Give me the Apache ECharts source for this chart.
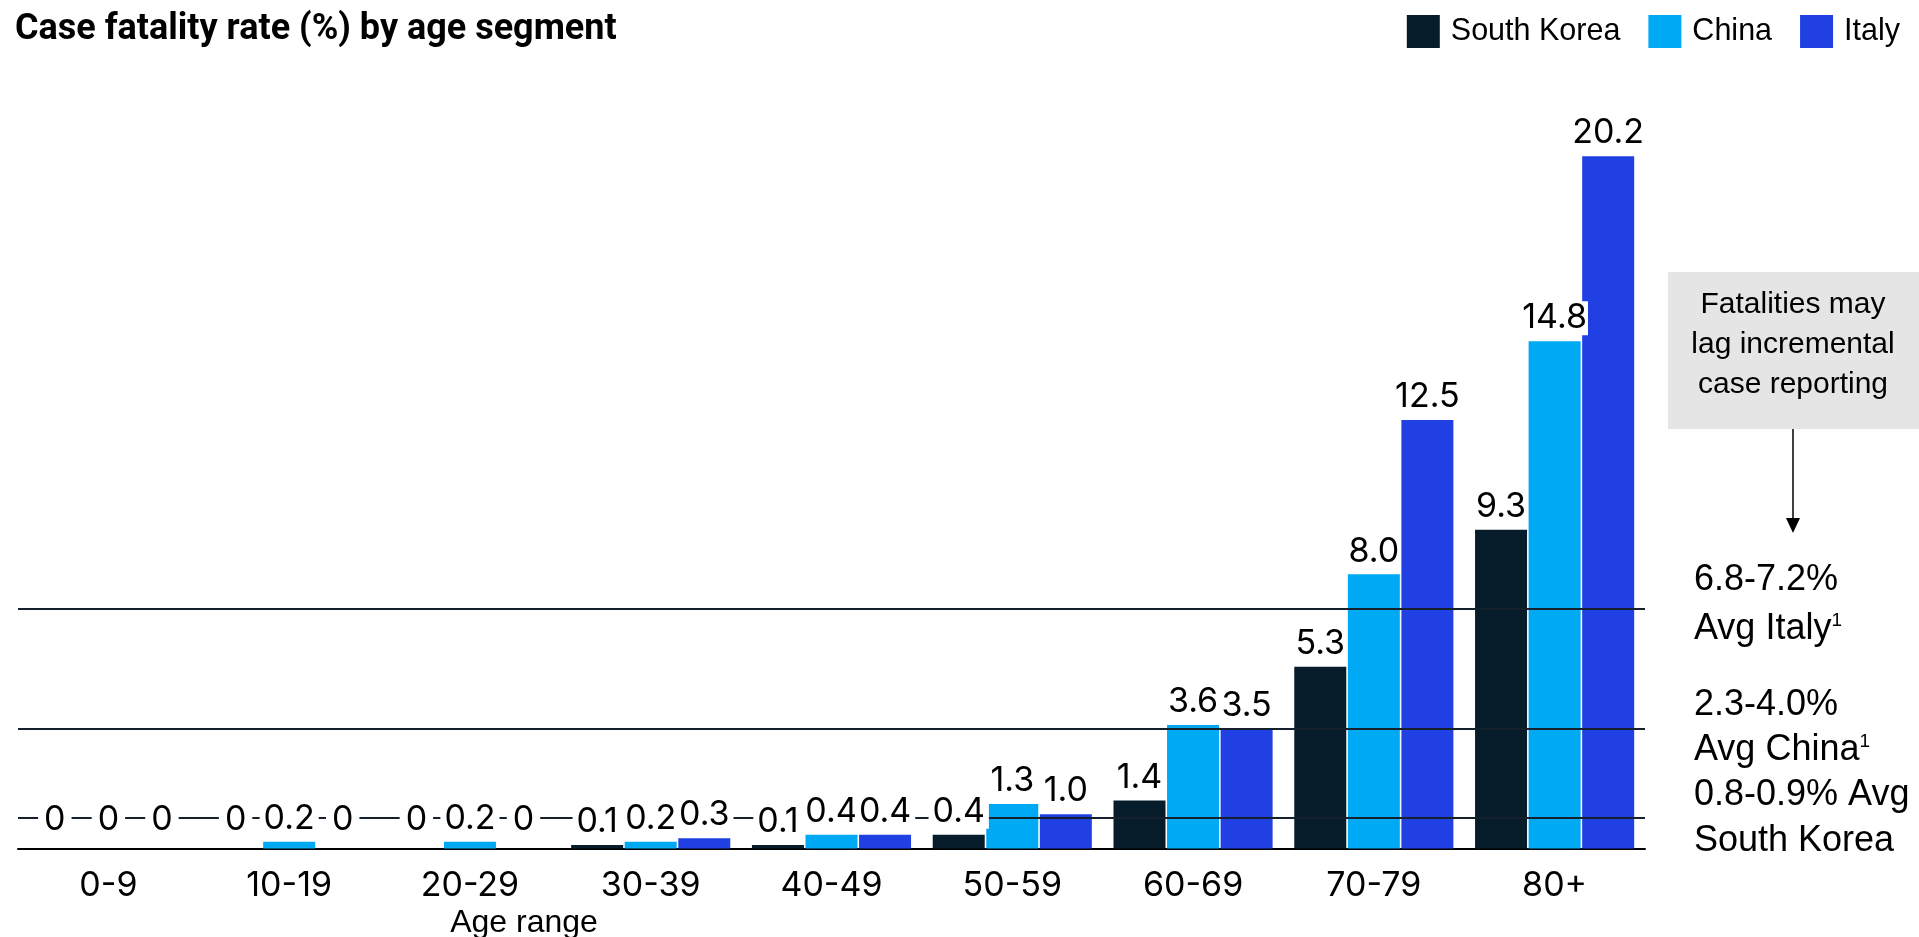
<!DOCTYPE html>
<html>
<head>
<meta charset="utf-8">
<title>Case fatality rate (%) by age segment</title>
<script src="https://cdn.jsdelivr.net/npm/echarts@6/dist/echarts.min.js"></script>
<style>
  html, body { margin: 0; padding: 0; background: #ffffff; }
  #chart { width: 1919px; height: 937px; }
</style>
</head>
<body>
<div id="chart"></div>
<script>
// Age segments on the x axis
const ageGroups = ['0-9', '10-19', '20-29', '30-39', '40-49', '50-59', '60-69', '70-79', '80+'];

// Case fatality rate (%) per age segment
const southKorea = [0, 0, 0, 0.1, 0.1, 0.4, 1.4, 5.3, 9.3];
const china = [0, 0.2, 0.2, 0.2, 0.4, 1.3, 3.6, 8.0, 14.8];
const italy = [0, 0, 0, 0.3, 0.4, 1.0, 3.5, 12.5, 20.2];

// Country averages drawn as horizontal reference lines (Italy, China, South Korea)
const averageLevels = [7.0, 3.5, 0.9];

const countries = ['South Korea', 'China', 'Italy'];
const countryValues = [southKorea, china, italy];
const countryColors = ['#061c2b', '#00a9f4', '#2140e3'];

const numFont = 'Inter, "Liberation Sans", Arial, sans-serif';
const textFont = '"Liberation Sans", Arial, sans-serif';

const chart = echarts.init(document.getElementById('chart'), null, { renderer: 'canvas' });

const barSeries = countries.map((name, i) => ({
  name,
  type: 'bar',
  xAxisIndex: 0,
  data: countryValues[i],
  barWidth: 52,
  barGap: '3%',
  z: 2,
  itemStyle: { color: countryColors[i] },
  emphasis: { disabled: true },
  markLine: i === 0 ? {
    z: 3,
    silent: true,
    symbol: 'none',
    label: { show: false },
    lineStyle: { color: '#14202b', width: 2, type: 'solid' },
    emphasis: { disabled: true },
    data: averageLevels.map(v => ({ yAxis: v }))
  } : undefined
}));

// Knock-out box around a value label: small values sit on the lowest
// reference line, so they get a wider white box; zeros also lift a bit more
function labelItem(v) {
  if (v === 0) return { value: v, label: { distance: 12, padding: [0, 6] } };
  if (v < 1) return { value: v, label: { padding: [0, 4] } };
  return v;
}

// Value labels sit on a twin axis so they stack above the reference lines
const labelSeries = countries.map((name, i) => ({
  name: name + ' values',
  type: 'bar',
  xAxisIndex: 1,
  data: countryValues[i].map(labelItem),
  barWidth: 52,
  barGap: '3%',
  z: 4,
  silent: true,
  itemStyle: { color: 'rgba(0,0,0,0)' },
  label: {
    show: true,
    position: 'top',
    distance: 6,
    formatter: p => (p.value === 0 ? '0' : p.value.toFixed(1)),
    fontFamily: numFont,
    fontSize: 34,
    lineHeight: 34,
    color: '#000',
    backgroundColor: '#ffffff',
    padding: [0, 1]
  }
}));

const supStyle = { fontFamily: textFont, fontSize: 19, verticalAlign: 'top', padding: [0, 0, 16, 0], fill: '#000' };

const option = {
  animation: false,
  backgroundColor: '#ffffff',
  title: {
    text: 'Case fatality rate (%) by age segment',
    left: 10,
    top: 7,
    textStyle: {
      fontFamily: '"Liberation Sans Narrow", "Roboto", Arial, sans-serif',
      fontWeight: 'bold',
      fontSize: 36,
      color: '#000'
    }
  },
  legend: {
    data: countries,
    right: 14,
    top: 10,
    itemWidth: 33,
    itemHeight: 33,
    itemGap: 28,
    icon: 'rect',
    selectedMode: false,
    textStyle: {
      fontFamily: textFont,
      fontSize: 30.5,
      color: '#000',
      padding: [0, 0, 0, 6]
    }
  },
  grid: {
    left: 18,
    right: 274,
    top: 94.5,
    bottom: 88.5,
    containLabel: false
  },
  xAxis: [
    {
      type: 'category',
      data: ageGroups,
      axisLine: { show: true, lineStyle: { color: '#000', width: 2 } },
      axisTick: { show: false },
      axisLabel: {
        interval: 0,
        margin: 20,
        fontFamily: numFont,
        fontSize: 34,
        color: '#000'
      },
      splitLine: { show: false }
    },
    {
      type: 'category',
      data: ageGroups,
      show: false
    }
  ],
  yAxis: {
    type: 'value',
    min: 0,
    max: 22,
    show: false,
    splitLine: { show: false }
  },
  series: barSeries.concat(labelSeries),
  graphic: [
    {
      type: 'text',
      x: 524,
      y: 923,
      style: {
        text: 'Age range',
        align: 'center',
        verticalAlign: 'middle',
        fontFamily: textFont,
        fontSize: 32,
        fontWeight: 500,
        fill: '#000'
      }
    },
    {
      type: 'rect',
      shape: { x: 1668, y: 272, width: 251, height: 157 },
      style: { fill: '#e5e5e5' }
    },
    {
      type: 'text',
      x: 1793,
      y: 285,
      style: {
        text: 'Fatalities may\nlag incremental\ncase reporting',
        align: 'center',
        verticalAlign: 'top',
        fontFamily: textFont,
        fontSize: 30,
        lineHeight: 40,
        fill: '#000'
      }
    },
    {
      type: 'line',
      shape: { x1: 1793, y1: 429, x2: 1793, y2: 520 },
      style: { stroke: '#000', lineWidth: 1.5 }
    },
    {
      type: 'polygon',
      shape: { points: [[1786, 518], [1800, 518], [1793, 533]] },
      style: { fill: '#000' }
    },
    {
      type: 'text', x: 1694, y: 580,
      style: { text: '6.8-7.2%', verticalAlign: 'middle', fontFamily: textFont, fontSize: 36, fill: '#000' }
    },
    {
      type: 'text', x: 1694, y: 629,
      style: {
        text: 'Avg Italy{sup|1}', verticalAlign: 'middle', fontFamily: textFont, fontSize: 36, fill: '#000',
        rich: { sup: supStyle }
      }
    },
    {
      type: 'text', x: 1694, y: 705,
      style: { text: '2.3-4.0%', verticalAlign: 'middle', fontFamily: textFont, fontSize: 36, fill: '#000' }
    },
    {
      type: 'text', x: 1694, y: 750,
      style: {
        text: 'Avg China{sup|1}', verticalAlign: 'middle', fontFamily: textFont, fontSize: 36, fill: '#000',
        rich: { sup: supStyle }
      }
    },
    {
      type: 'text', x: 1694, y: 795,
      style: { text: '0.8-0.9% Avg', verticalAlign: 'middle', fontFamily: textFont, fontSize: 36, fill: '#000' }
    },
    {
      type: 'text', x: 1694, y: 841,
      style: { text: 'South Korea', verticalAlign: 'middle', fontFamily: textFont, fontSize: 36, fill: '#000' }
    }
  ]
};

chart.setOption(option);
</script>
</body>
</html>
